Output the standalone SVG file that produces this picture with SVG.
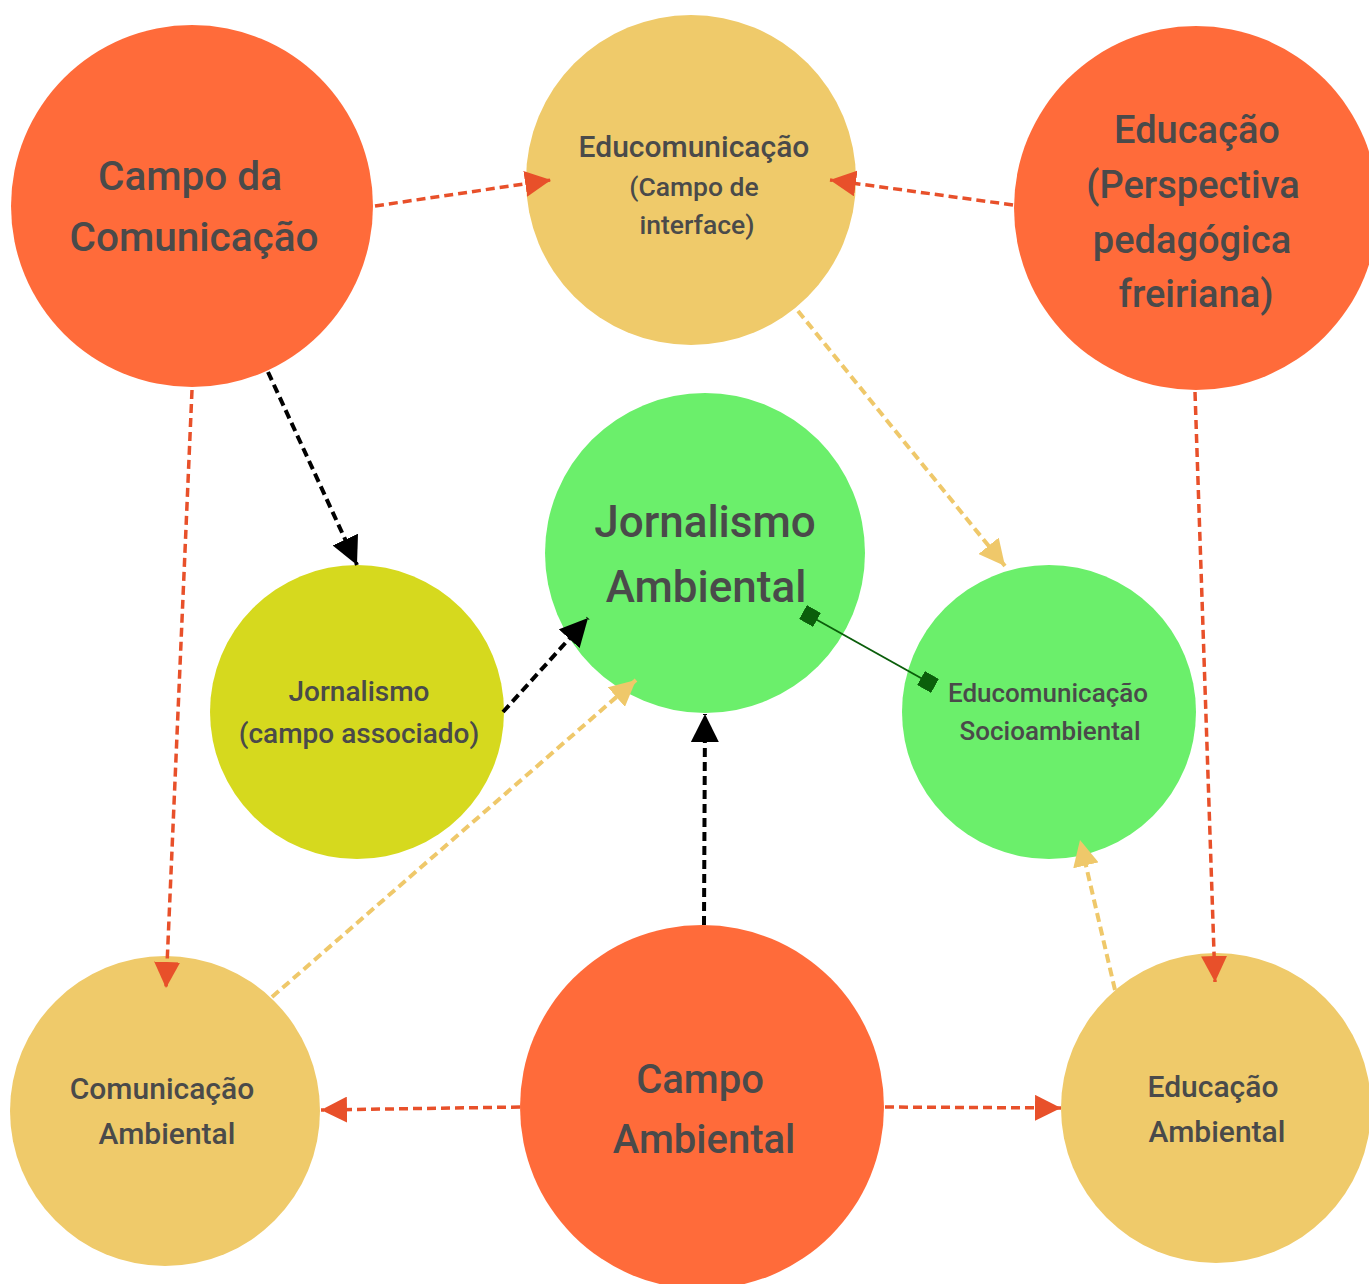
<svg xmlns="http://www.w3.org/2000/svg" width="1369" height="1284" viewBox="0 0 1369 1284">
<defs>
<style>
.t{font-family:Roboto,"Liberation Sans",sans-serif;font-weight:500;fill:#4a4a4a;text-anchor:middle}
.or{fill:#FF6B3A}
.ye{fill:#EFCA6A}
.gr{fill:#6BEF6B}
.li{fill:#D6D91E}
.red{stroke:#E8502A;stroke-width:3.5;stroke-dasharray:9 5;fill:none}
.blk{stroke:#000;stroke-width:4;stroke-dasharray:9 5;fill:none}
.yel{stroke:#EFC86A;stroke-width:4;stroke-dasharray:9 5;fill:none}
.dg{stroke:#0B5E0B;stroke-width:2;fill:none}
</style>
<marker id="ar" viewBox="0 0 10 10" refX="10" refY="5" markerWidth="26" markerHeight="26" markerUnits="userSpaceOnUse" orient="auto"><path d="M0,0L10,5L0,10z" fill="#E8502A"/></marker>
<marker id="ab" viewBox="0 0 10 10" refX="10" refY="5" markerWidth="28" markerHeight="28" markerUnits="userSpaceOnUse" orient="auto"><path d="M0,0L10,5L0,10z" fill="#000"/></marker>
<marker id="ay" viewBox="0 0 10 10" refX="10" refY="5" markerWidth="26" markerHeight="26" markerUnits="userSpaceOnUse" orient="auto"><path d="M0,0L10,5L0,10z" fill="#EFC86A"/></marker>
<marker id="sq" viewBox="0 0 10 10" refX="5" refY="5" markerWidth="16" markerHeight="16" markerUnits="userSpaceOnUse" orient="auto"><rect x="0" y="0" width="10" height="10" fill="#0B5E0B"/></marker>
</defs>
<rect width="1369" height="1284" fill="#fff"/>
<g id="n1"><circle class="or" cx="192" cy="206" r="181"/><text class="t" font-size="40.5"><tspan x="190" y="190">Campo da</tspan><tspan x="194" y="251">Comunicação</tspan></text></g>
<g id="n2"><circle class="ye" cx="691" cy="180" r="165"/><text class="t"><tspan x="694" y="157" font-size="30">Educomunicação</tspan><tspan x="694" y="196" font-size="26.5">(Campo de</tspan><tspan x="697" y="234" font-size="26.5">interface)</tspan></text></g>
<g id="n3"><circle class="or" cx="1196" cy="208" r="182"/><text class="t" font-size="38"><tspan x="1197" y="143">Educação</tspan><tspan x="1193" y="198">(Perspectiva</tspan><tspan x="1192" y="253">pedagógica</tspan><tspan x="1196" y="307">freiriana)</tspan></text></g>
<g id="n4"><circle class="gr" cx="705" cy="553" r="160"/><text class="t" font-size="44"><tspan x="705" y="537">Jornalismo</tspan><tspan x="706" y="602">Ambiental</tspan></text></g>
<g id="n5"><circle class="li" cx="357" cy="712" r="147"/><text class="t" font-size="28" font-weight="700"><tspan x="359" y="701">Jornalismo</tspan><tspan x="359" y="743">(campo associado)</tspan></text></g>
<g id="n6"><circle class="gr" cx="1049" cy="712" r="147"/><text class="t" font-size="26"><tspan x="1048" y="702">Educomunicação</tspan><tspan x="1050" y="740">Socioambiental</tspan></text></g>
<g id="n7"><circle class="ye" cx="165" cy="1111" r="155"/><text class="t" font-size="30"><tspan x="162" y="1099">Comunicação</tspan><tspan x="167" y="1144">Ambiental</tspan></text></g>
<g id="n8"><circle class="or" cx="702" cy="1107" r="182"/><text class="t" font-size="40"><tspan x="700" y="1093">Campo</tspan><tspan x="704" y="1153">Ambiental</tspan></text></g>
<g id="n9"><circle class="ye" cx="1216" cy="1108" r="155"/><text class="t" font-size="30"><tspan x="1213" y="1097">Educação</tspan><tspan x="1217" y="1142">Ambiental</tspan></text></g>
<g id="connectors">
<line class="red" x1="375" y1="206" x2="551" y2="180" marker-end="url(#ar)"/>
<line class="red" x1="1013" y1="205" x2="830" y2="180" marker-end="url(#ar)"/>
<line class="blk" x1="268" y1="372" x2="357" y2="565" marker-end="url(#ab)"/>
<line class="red" x1="192" y1="390" x2="166" y2="988" marker-end="url(#ar)"/>
<line class="yel" x1="798" y1="311" x2="1005" y2="566" marker-end="url(#ay)"/>
<line class="red" x1="1195" y1="392" x2="1215" y2="982" marker-end="url(#ar)"/>
<line class="blk" x1="503" y1="712" x2="588" y2="618" marker-end="url(#ab)"/>
<line class="yel" x1="272" y1="997" x2="636" y2="680" marker-end="url(#ay)"/>
<line class="blk" x1="704" y1="925" x2="705" y2="714" marker-end="url(#ab)"/>
<line class="yel" x1="1115" y1="990" x2="1080" y2="840" marker-end="url(#ay)"/>
<line class="red" x1="520" y1="1107" x2="321" y2="1110" marker-end="url(#ar)"/>
<line class="red" x1="885" y1="1107" x2="1061" y2="1108" marker-end="url(#ar)"/>
<line class="dg" x1="810" y1="616" x2="928" y2="682" marker-start="url(#sq)" marker-end="url(#sq)"/>
</g>
</svg>
